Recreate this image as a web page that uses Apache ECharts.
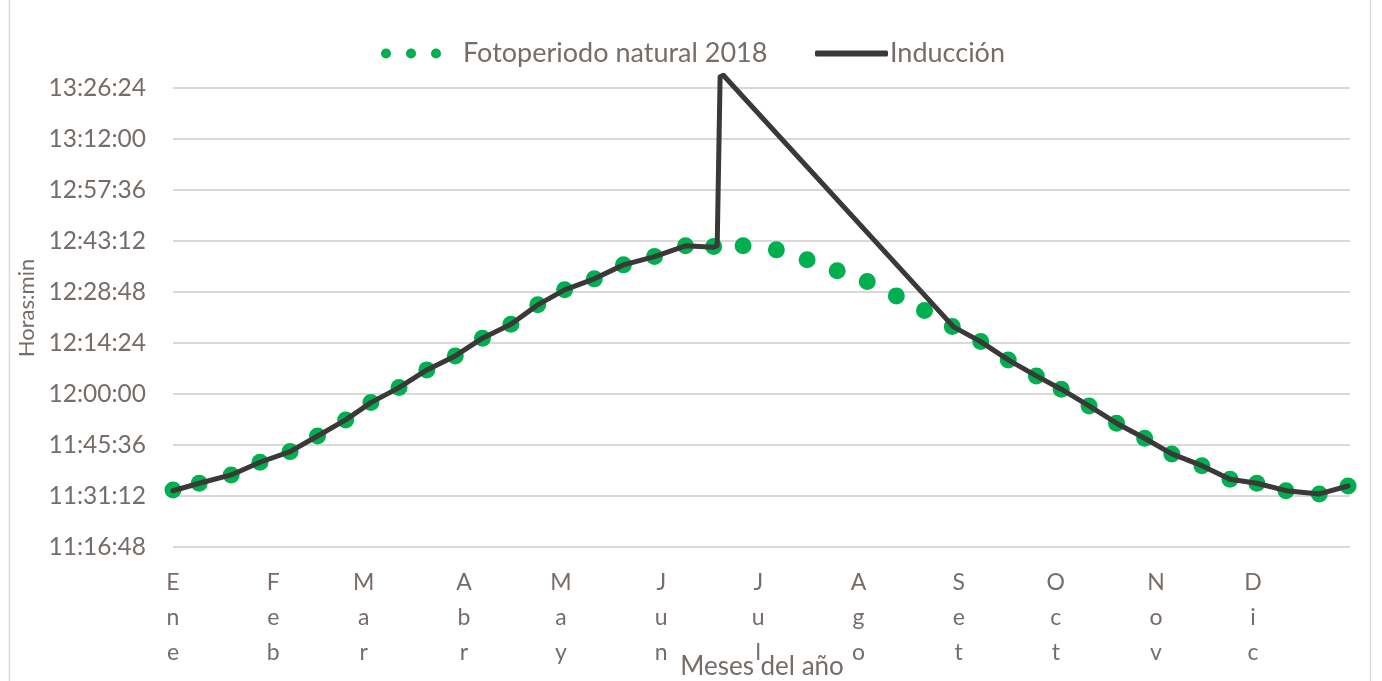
<!DOCTYPE html>
<html>
<head>
<meta charset="utf-8">
<script src="https://cdn.jsdelivr.net/npm/echarts@6/dist/echarts.min.js"></script>
<style>
  html, body { margin: 0; padding: 0; background: #ffffff; }
  #chart { width: 1382px; height: 681px; }
</style>
</head>
<body>
<div id="chart"></div>
<script>
// ---- data (x = day of year, 0 = 1 Ene) ----
const monthNames = ['Ene', 'Feb', 'Mar', 'Abr', 'May', 'Jun', 'Jul', 'Ago', 'Set', 'Oct', 'Nov', 'Dic'];
const monthStartDays = [0, 31, 59, 90, 120, 151, 181, 212, 243, 273, 304, 334];
const yTickStart = '11:16:48';
const yTickStep = '0:14:24';
const yAxisMax = '13:30:00';
const yTitle = 'Horas:min';
const xTitle = 'Meses del año';

const naturalDays = [0, 8.1, 18, 26.9, 36.2, 44.7, 53.4, 61.2, 69.9, 78.5, 87.3, 95.7, 104.5, 112.8,
  121.1, 130.3, 139.3, 148.9, 158.5, 167.2, 176.3, 186.6, 196.1, 205.4, 214.7, 223.7, 232.4, 241,
  249.8, 258.3, 267, 274.7, 283.3, 291.8, 300.5, 308.9, 318.2, 326.9, 335.2, 344.2, 354.5, 363.4];
const naturalHours = ['11:32:54', '11:34:47', '11:37:08', '11:40:43', '11:43:43', '11:48:08', '11:52:40',
  '11:57:33', '12:01:47', '12:06:47', '12:10:44', '12:15:44', '12:19:41', '12:25:08', '12:29:22',
  '12:32:28', '12:36:25', '12:38:46', '12:41:47', '12:41:35', '12:41:47', '12:40:39', '12:37:50',
  '12:34:44', '12:31:43', '12:27:40', '12:23:31', '12:19:00', '12:14:46', '12:09:36', '12:05:05',
  '12:01:20', '11:56:37', '11:51:44', '11:47:30', '11:43:04', '11:39:45', '11:35:55', '11:34:47',
  '11:32:42', '11:31:46', '11:34:01'];

const induccionDays = [0, 8.1, 18, 26.9, 36.2, 44.7, 53.4, 61.2, 69.9, 78.5, 87.3, 95.7, 104.5, 112.8,
  121.1, 130.3, 139.3, 148.9, 158.5, 167.2, 168.3, 169.2, 170.2, 241.4,
  249.8, 258.3, 267, 274.7, 283.3, 291.8, 300.5, 308.9, 318.2, 326.9, 335.2, 344.2, 354.5, 363.4];
const induccionHours = ['11:32:40', '11:34:47', '11:37:08', '11:40:43', '11:43:43', '11:48:08', '11:52:40',
  '11:57:33', '12:01:47', '12:06:47', '12:10:44', '12:15:44', '12:19:41', '12:25:08', '12:29:22',
  '12:32:28', '12:36:25', '12:38:46', '12:41:47', '12:41:25', '12:41:50', '13:29:30', '13:29:55', '12:18:55',
  '12:14:46', '12:09:36', '12:05:05', '12:01:20', '11:56:37', '11:51:44', '11:47:30', '11:43:04',
  '11:39:45', '11:35:55', '11:34:47', '11:32:42', '11:31:46', '11:34:01'];

// ---- helpers ----
function toSec(s) { const p = s.split(':').map(Number); return p[0] * 3600 + p[1] * 60 + p[2]; }
function fmt(v) {
  v = Math.round(v);
  const h = Math.floor(v / 3600), m = Math.floor((v % 3600) / 60), s = v % 60;
  return h + ':' + String(m).padStart(2, '0') + ':' + String(s).padStart(2, '0');
}
const pair = (xs, ys) => xs.map((d, i) => [d, toSec(ys[i])]);

const FONT = 'Lato';
const TXT = '#766d69';
const chart = echarts.init(document.getElementById('chart'), null, { renderer: 'canvas' });

const dotsIcon = 'path://M0,5a5,5 0 1,0 10,0a5,5 0 1,0 -10,0M25,5a5,5 0 1,0 10,0a5,5 0 1,0 -10,0M50,5a5,5 0 1,0 10,0a5,5 0 1,0 -10,0';

chart.setOption({
  backgroundColor: '#ffffff',
  animation: false,
  textStyle: { fontFamily: FONT },
  grid: { left: 173, right: 32, top: 75, bottom: 134, containLabel: false, outerBoundsMode: 'none' },
  legend: [
    {
      data: [{ name: 'Fotoperiodo natural 2018', icon: dotsIcon }],
      left: 381, top: 40, padding: 0, itemWidth: 60, itemHeight: 10,
      textStyle: { color: TXT, fontSize: 27, fontFamily: FONT, padding: [0, 0, 0, 17] }
    },
    {
      data: [{ name: 'Inducción', icon: 'roundRect' }],
      left: 815, top: 40, padding: 0, itemWidth: 73, itemHeight: 6,
      itemStyle: { color: '#3b3838', borderRadius: 3 },
      textStyle: { color: TXT, fontSize: 27, fontFamily: FONT, padding: [0, 0, 0, -3] }
    }
  ],
  xAxis: {
    type: 'value', min: 0, max: 364,
    axisLine: { show: false }, axisTick: { show: false }, splitLine: { show: false },
    axisLabel: {
      customValues: monthStartDays,
      formatter: (v) => {
        const i = monthStartDays.indexOf(Math.round(v));
        return i >= 0 ? monthNames[i].split('').join('\n') : '';
      },
      color: TXT, fontSize: 23, lineHeight: 35, margin: 18, fontFamily: FONT,
      verticalAlign: 'top'
    }
  },
  yAxis: {
    type: 'value', min: toSec(yTickStart), max: toSec(yAxisMax), interval: toSec(yTickStep),
    axisLine: { show: false }, axisTick: { show: false },
    splitLine: { show: true, showMaxLine: false, lineStyle: { color: '#d9d9d9', width: 2 } },
    axisLabel: { formatter: (v) => fmt(v), color: TXT, fontSize: 24.5, margin: 27, fontFamily: FONT, showMaxLabel: false }
  },
  series: [
    {
      name: 'Fotoperiodo natural 2018', type: 'line',
      data: pair(naturalDays, naturalHours),
      symbol: 'circle', symbolSize: 17, showSymbol: true,
      itemStyle: { color: '#00b050' },
      lineStyle: { width: 0, opacity: 0, color: '#00b050' },
      z: 2
    },
    {
      name: 'Inducción', type: 'line',
      data: pair(induccionDays, induccionHours),
      showSymbol: false, symbol: 'none',
      itemStyle: { color: '#3b3838' },
      lineStyle: { width: 5, color: '#3b3838', join: 'round', cap: 'round' },
      z: 3
    }
  ],
  graphic: [
    { type: 'line', shape: { x1: 9.5, y1: 0, x2: 9.5, y2: 681 }, style: { stroke: '#d9d9d9', lineWidth: 1.5 } },
    { type: 'line', shape: { x1: 1370.5, y1: 0, x2: 1370.5, y2: 681 }, style: { stroke: '#d9d9d9', lineWidth: 1.5 } },
    {
      type: 'text', x: 27, y: 308, rotation: Math.PI / 2,
      style: { text: yTitle, fill: TXT, fontSize: 22, fontFamily: 'Lato', align: 'center', verticalAlign: 'middle' }
    },
    {
      type: 'text', x: 762, y: 667,
      style: { text: xTitle, fill: TXT, fontSize: 26, fontFamily: 'Lato', align: 'center', verticalAlign: 'middle' }
    }
  ]
});
</script>
</body>
</html>
